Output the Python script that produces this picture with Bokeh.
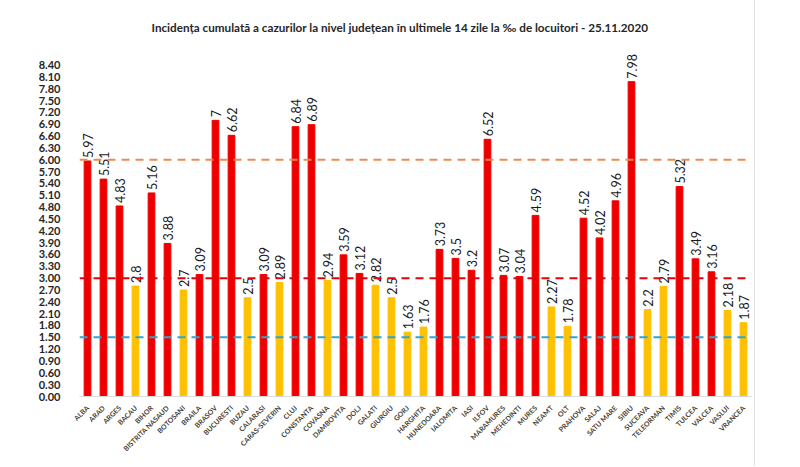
import math
from bokeh.plotting import figure
from bokeh.models import ColumnDataSource, Span, FixedTicker, Range1d
from bokeh.core.properties import value
from bokeh.embed import file_html
from bokeh.resources import INLINE

counties = ["ALBA", "ARAD", "ARGES", "BACAU", "BIHOR", "BISTRITA NASAUD", "BOTOSANI",
            "BRAILA", "BRASOV", "BUCURESTI", "BUZAU", "CALARASI", "CARAS-SEVERIN", "CLUJ",
            "CONSTANTA", "COVASNA", "DAMBOVITA", "DOLJ", "GALATI", "GIURGIU", "GORJ",
            "HARGHITA", "HUNEDOARA", "IALOMITA", "IASI", "ILFOV", "MARAMURES", "MEHEDINTI",
            "MURES", "NEAMT", "OLT", "PRAHOVA", "SALAJ", "SATU MARE", "SIBIU", "SUCEAVA",
            "TELEORMAN", "TIMIS", "TULCEA", "VALCEA", "VASLUI", "VRANCEA"]
incidence = [5.97, 5.51, 4.83, 2.8, 5.16, 3.88, 2.7,
             3.09, 7, 6.62, 2.5, 3.09, 2.89, 6.84,
             6.89, 2.94, 3.59, 3.12, 2.82, 2.5, 1.63,
             1.76, 3.73, 3.5, 3.2, 6.52, 3.07, 3.04,
             4.59, 2.27, 1.78, 4.52, 4.02, 4.96, 7.98, 2.2,
             2.79, 5.32, 3.49, 3.16, 2.18, 1.87]
thresholds = [6.0, 3.0, 1.5]
threshold_colors = ["#EE8A4E", "#E8000B", "#2BA6D5"]
y_ticks = [0.00, 0.30, 0.60, 0.90, 1.20, 1.50, 1.80, 2.10, 2.40, 2.70, 3.00, 3.30,
           3.60, 3.90, 4.20, 4.50, 4.80, 5.10, 5.40, 5.70, 6.00, 6.30, 6.60, 6.90,
           7.20, 7.50, 7.80, 8.10, 8.40]
title_text = "Incidența cumulată a cazurilor la nivel județean în ultimele 14 zile la ‰ de locuitori - 25.11.2020"

RED = "#EE0000"
YELLOW = "#FFC000"

xs = list(range(len(counties)))
colors = [RED if v >= 3.0 else YELLOW for v in incidence]
labels = [f"{v:g}" for v in incidence]

src = ColumnDataSource(dict(x=xs, top=incidence, color=colors, label=labels))

p = figure(width=755, height=466, output_backend="svg", toolbar_location=None,
           x_range=Range1d(-0.5, len(counties) - 0.5), y_range=Range1d(0, 8.77),
           min_border_left=79, min_border_right=4, min_border_top=48, min_border_bottom=70,
           title=title_text)
p.styles = {"border-right": "1px solid #E2E2E2"}

p.title.align = "left"
p.title.offset = 72
p.title.standoff = 34
p.title.text_font = "Lato"
p.title.text_font_size = "11.7px"
p.title.text_font_style = "bold"
p.title.text_color = "#262626"

p.outline_line_color = None
p.xgrid.visible = False
p.ygrid.visible = False
p.background_fill_color = "white"
p.border_fill_color = "white"

p.vbar(x="x", top="top", width=0.42, color="color", source=src)

for t, c in zip(thresholds, threshold_colors):
    p.add_layout(Span(location=t, dimension="width", line_color=c, line_width=2,
                      line_dash="8 6"))

p.text(x="x", y="top", text="label", source=src, angle=math.pi / 2,
       text_align="left", text_baseline="middle", y_offset=-3,
       text_font=value("Lato"), text_font_size="12.5px", text_color="#1A1A1A")

# y axis
p.yaxis.ticker = FixedTicker(ticks=y_ticks)
p.yaxis.major_label_overrides = {t: f"{t:.2f}" for t in y_ticks}
p.yaxis.axis_line_color = None
p.yaxis.major_tick_line_color = None
p.yaxis.minor_tick_line_color = None
p.yaxis.major_label_standoff = 13
p.yaxis.major_label_text_font = "Lato"
p.yaxis.major_label_text_font_style = "bold"
p.yaxis.major_label_text_font_size = "11px"
p.yaxis.major_label_text_color = "#262626"

# x axis
p.xaxis.ticker = FixedTicker(ticks=xs)
p.xaxis.major_label_overrides = {i: n for i, n in zip(xs, counties)}
p.xaxis.major_label_orientation = math.pi / 4
p.xaxis.axis_line_color = "#D9D9D9"
p.xaxis.axis_line_width = 1
p.xaxis.major_tick_line_color = None
p.xaxis.minor_tick_line_color = None
p.xaxis.major_label_standoff = 4
p.xaxis.major_label_text_font = "Lato"
p.xaxis.major_label_text_font_style = "bold"
p.xaxis.major_label_text_font_size = "7px"
p.xaxis.major_label_text_color = "#404040"

open("out.html", "w").write(file_html(p, INLINE))
